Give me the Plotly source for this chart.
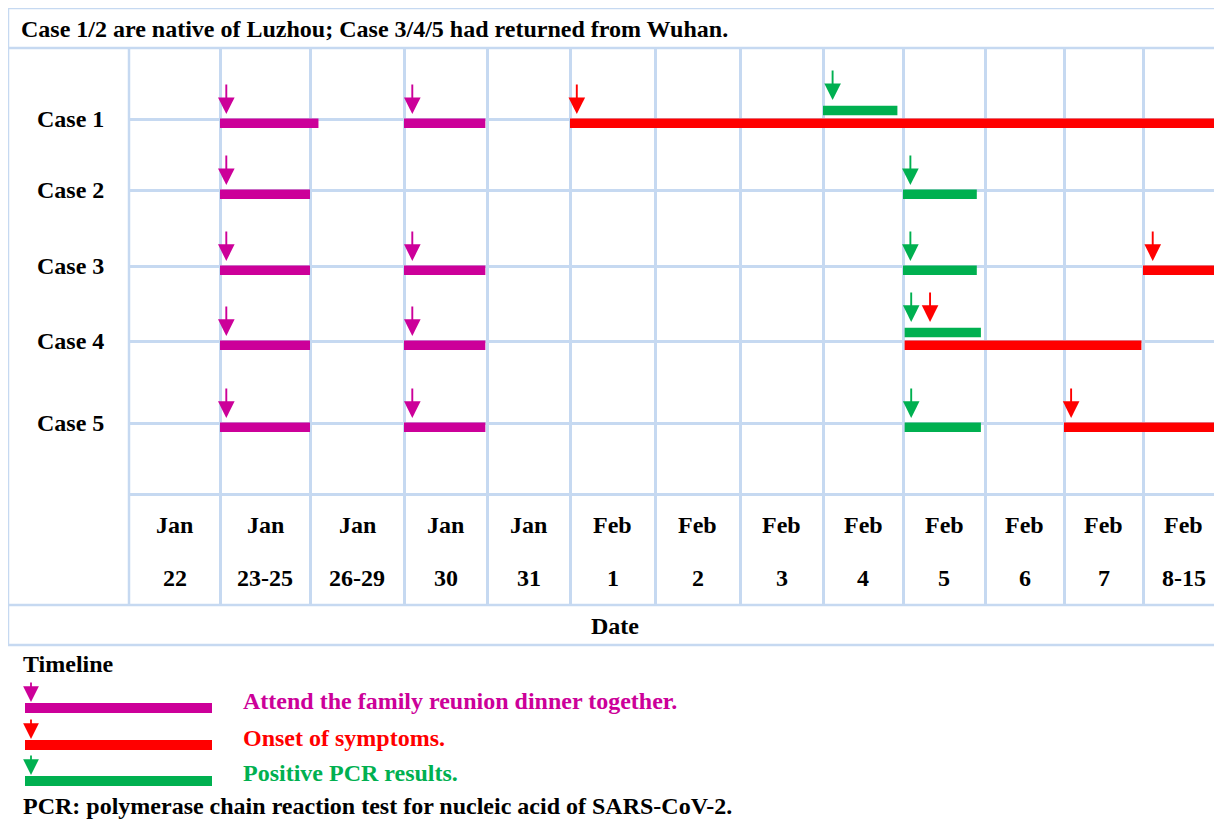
import numpy as np
import plotly.graph_objects as go

# ------------------------------------------------------------------ data
date_month = ["Jan", "Jan", "Jan", "Jan", "Jan", "Feb", "Feb", "Feb", "Feb",
              "Feb", "Feb", "Feb", "Feb"]
date_day = ["22", "23-25", "26-29", "30", "31", "1", "2", "3", "4", "5", "6",
            "7", "8-15"]
cases = ["Case 1", "Case 2", "Case 3", "Case 4", "Case 5"]

# timeline segments, in date-column units (0 = start of the "Jan 22" column)
seg_case = ["Case 1", "Case 1", "Case 1", "Case 1",
            "Case 2", "Case 2",
            "Case 3", "Case 3", "Case 3", "Case 3",
            "Case 4", "Case 4", "Case 4", "Case 4",
            "Case 5", "Case 5", "Case 5", "Case 5"]
seg_event = ["dinner", "dinner", "onset", "pcr",
             "dinner", "pcr",
             "dinner", "dinner", "pcr", "onset",
             "dinner", "dinner", "pcr", "onset",
             "dinner", "dinner", "pcr", "onset"]
seg_start = [1.0, 3.0, 5.0, 8.0,
             1.0, 9.0,
             1.0, 3.0, 9.0, 12.0,
             1.0, 3.0, 9.02, 9.02,
             1.0, 3.0, 9.02, 11.0]
seg_end = [2.09, 3.98, 13.0, 8.93,
           2.0, 9.9,
           2.0, 3.98, 9.9, 13.0,
           2.0, 3.98, 9.95, 11.98,
           2.0, 3.98, 9.95, 13.0]
seg_arrow = [1.07, 3.1, 5.08, 8.12,
             1.07, 9.09,
             1.07, 3.1, 9.09, 12.12,
             1.07, 3.1, 9.1, 9.33,
             1.07, 3.1, 9.1, 11.09]

event_order = ["dinner", "onset", "pcr"]
event_label = ["Attend the family reunion dinner together.",
               "Onset of symptoms.",
               "Positive PCR results."]

title_text = "Case 1/2 are native of Luzhou; Case 3/4/5 had returned from Wuhan."
xaxis_title = "Date"
legend_title = "Timeline"
footnote = "PCR: polymerase chain reaction test for nucleic acid of SARS-CoV-2."

# ------------------------------------------------------------------ layout / style
OFF = 8                      # page body margin
W, H = 1222 - OFF, 821 - OFF
FONT = "Liberation Serif"
FS = 24
GRID = "#c6d9f1"
event_color = {"dinner": "#cc0099", "onset": "#ff0000", "pcr": "#00b050"}

col_widths = [91, 90, 94, 83, 83, 85, 85, 83, 80, 82, 79, 79, 81]
edges = np.concatenate([[0], np.cumsum(col_widths)]).astype(float)
row_y = {"Case 1": 71, "Case 2": 142, "Case 3": 218, "Case 4": 293, "Case 5": 375}
grid_bottom = 446
header_bottom = 557
GX0, GY0, GY1 = 129, 48, 605       # page-pixel frame of the grid
BAR_T = 9.5
ARROW = dict(arrowhead=2, arrowsize=1.75, arrowwidth=1.9)


def xm(c):
    return float(np.interp(c, np.arange(len(edges)), edges))


def px(x):
    return (x - OFF) / W


def py(y):
    return 1 - (y - OFF) / H


# lane: PCR bar goes above the line when it overlaps an onset bar of the same case
lanes = []
for i in range(len(seg_case)):
    up = False
    if seg_event[i] == "pcr":
        for j in range(len(seg_case)):
            if (seg_case[j] == seg_case[i] and seg_event[j] == "onset"
                    and seg_start[j] < seg_end[i] and seg_end[j] > seg_start[i]):
                up = True
    lanes.append(up)

fig = go.Figure()
for ev in event_order:
    idx = [i for i in range(len(seg_case)) if seg_event[i] == ev]
    base = [xm(seg_start[i]) for i in idx]
    length = [xm(seg_end[i]) - xm(seg_start[i]) for i in idx]
    ys = [row_y[seg_case[i]] + (-8.5 if lanes[i] else 4.2) for i in idx]
    fig.add_trace(go.Bar(orientation="h", base=base, x=length, y=ys,
                         width=BAR_T, marker=dict(color=event_color[ev], line_width=0),
                         showlegend=False, hoverinfo="skip"))

annotations = []
# arrows
for i in range(len(seg_case)):
    c = seg_case[i]
    top = False
    for j in range(len(seg_case)):
        if seg_case[j] == c and lanes[j] and seg_start[j] <= seg_arrow[i] <= seg_end[j]:
            top = True
    tip = row_y[c] - (19 if top else 5)
    annotations.append(dict(x=xm(seg_arrow[i]), y=tip, xref="x", yref="y", text="",
                            showarrow=True, arrowcolor=event_color[seg_event[i]],
                            ax=0, ay=-31, **ARROW))
# case labels
for c in cases:
    annotations.append(dict(x=px(35), y=row_y[c], xref="paper", yref="y",
                            text=f"<b>{c}</b>", showarrow=False, xanchor="left",
                            yanchor="middle", font=dict(family=FONT, size=FS, color="black")))
# date header
for k in range(len(date_month)):
    cx = (edges[k] + edges[k + 1]) / 2
    annotations.append(dict(x=cx, y=477, xref="x", yref="y", text=f"<b>{date_month[k]}</b>",
                            showarrow=False, font=dict(family=FONT, size=FS, color="black")))
    annotations.append(dict(x=cx, y=530, xref="x", yref="y", text=f"<b>{date_day[k]}</b>",
                            showarrow=False, font=dict(family=FONT, size=FS, color="black")))
# title, axis title
annotations.append(dict(x=px(19), y=py(29), xref="paper", yref="paper", text=f"<b>{title_text}</b>",
                        showarrow=False, xanchor="left", yanchor="middle",
                        font=dict(family=FONT, size=FS, color="black")))
annotations.append(dict(x=px(615), y=py(626), xref="paper", yref="paper", text=f"<b>{xaxis_title}</b>",
                        showarrow=False, xanchor="center", yanchor="middle",
                        font=dict(family=FONT, size=FS, color="black")))
# legend
annotations.append(dict(x=px(21), y=py(664), xref="paper", yref="paper", text=f"<b>{legend_title}</b>",
                        showarrow=False, xanchor="left", yanchor="middle",
                        font=dict(family=FONT, size=FS, color="black")))
shapes = []
leg_bar_y = [703, 740, 776]
leg_text_y = [701, 738, 773]
for k, ev in enumerate(event_order):
    shapes.append(dict(type="rect", xref="paper", yref="paper", x0=px(25), x1=px(212),
                       y0=py(leg_bar_y[k]), y1=py(leg_bar_y[k] + 10),
                       fillcolor=event_color[ev], line_width=0))
    annotations.append(dict(x=px(31), y=py(leg_bar_y[k] - 1), xref="paper", yref="paper", text="",
                            showarrow=True, arrowcolor=event_color[ev], ax=0, ay=-21,
                            arrowhead=2, arrowsize=1.75, arrowwidth=1.8))
    annotations.append(dict(x=px(241), y=py(leg_text_y[k]), xref="paper", yref="paper",
                            text=f"<b>{event_label[k]}</b>", showarrow=False,
                            xanchor="left", yanchor="middle",
                            font=dict(family=FONT, size=FS, color=event_color[ev])))
annotations.append(dict(x=px(21), y=py(806), xref="paper", yref="paper", text=f"<b>{footnote}</b>",
                        showarrow=False, xanchor="left", yanchor="middle",
                        font=dict(family=FONT, size=FS, color="black")))

# table frame
LW = 2.5
frame = [
    (8, 8, 1222, 8), (8, 48, 1222, 48), (8, 605, 1222, 605), (8, 645, 1222, 645),
    (8, 8, 8, 645), (129, 48, 129, 605),
]
for x0, y0, x1, y1 in frame:
    shapes.append(dict(type="line", xref="paper", yref="paper", x0=px(x0), y0=py(y0),
                       x1=px(x1), y1=py(y1), line=dict(color=GRID, width=LW)))

fig.update_layout(
    width=W, height=H, margin=dict(l=0, r=0, t=0, b=0),
    paper_bgcolor="white", plot_bgcolor="white", barmode="overlay",
    showlegend=False, annotations=annotations, shapes=shapes,
    xaxis=dict(domain=[px(GX0), 1], range=[0, 1222 - GX0], tickvals=list(edges[1:13]),
               showgrid=True, gridcolor=GRID, gridwidth=LW, showticklabels=False,
               zeroline=False, showline=False, ticks=""),
    yaxis=dict(domain=[py(GY1), py(GY0)], range=[header_bottom, 0],
               tickvals=list(row_y.values()) + [grid_bottom],
               showgrid=True, gridcolor=GRID, gridwidth=LW, showticklabels=False,
               zeroline=False, showline=False, ticks=""),
)

fig.write_html("out.html")
